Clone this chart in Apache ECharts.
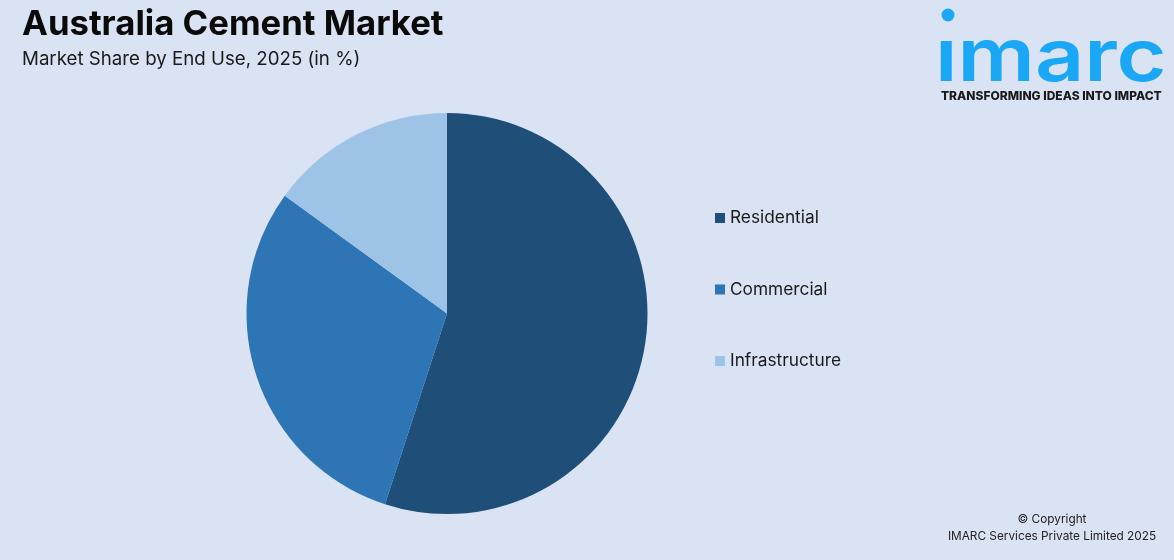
<!DOCTYPE html>
<html>
<head>
<meta charset="utf-8">
<style>html,body{margin:0;padding:0;background:#dae3f3}#main{width:1174px;height:560px}</style>
<script src="https://cdn.jsdelivr.net/npm/echarts@6/dist/echarts.min.js"></script>
</head>
<body>
<div id="main"></div>
<script>
const categories = ['Residential', 'Commercial', 'Infrastructure'];
const shares = [55, 30, 15];
const colors = ['#1f4e79', '#2e75b6', '#9dc3e6'];

const chart = echarts.init(document.getElementById('main'));

const font = 'Inter';

chart.setOption({
  animation: false,
  backgroundColor: '#dae3f3',
  color: colors,
  title: [
    {
      text: 'Australia Cement Market',
      left: 17, top: 2,
      textStyle: { fontFamily: font, fontSize: 34.7, fontWeight: 700, color: '#0a0a0a' }
    },
    {
      text: 'Market Share by End Use, 2025 (in %)',
      left: 17, top: 45,
      textStyle: { fontFamily: font, fontSize: 18.7, fontWeight: 400, color: '#1a1a1a' }
    },
    {
      text: '© Copyright',
      left: 1047, top: 508, textAlign: 'center',
      textStyle: { fontFamily: font, fontSize: 11.8, fontWeight: 400, color: '#222' }
    },
    {
      text: 'IMARC Services Private Limited 2025',
      left: 1047, top: 525, textAlign: 'center',
      textStyle: { fontFamily: font, fontSize: 11.8, fontWeight: 400, color: '#222' }
    }
  ],
  legend: {
    orient: 'vertical',
    left: 710, top: 202,
    icon: 'rect',
    itemWidth: 10, itemHeight: 10, itemGap: 49.5,
    selectedMode: false,
    data: categories,
    textStyle: { fontFamily: font, fontSize: 17.3, color: '#1a1a1a', lineHeight: 22 }
  },
  series: [{
    type: 'pie',
    center: [447, 313.5],
    radius: [0, 200.5],
    startAngle: 90,
    clockwise: true,
    label: { show: false },
    labelLine: { show: false },
    data: categories.map((name, i) => ({ name, value: shares[i] }))
  }],
  graphic: [
    { type: 'circle', shape: { cx: 948, cy: 15, r: 6.5 }, style: { fill: '#1aa7f5' } },
    {
      type: 'text', x: 935, y: 23, scaleX: 1.178,
      style: { text: 'ımarc', fontFamily: font, fontSize: 73, fontWeight: 600, fill: '#1aa7f5' }
    },
    {
      type: 'text', left: 941, top: 90,
      style: { text: 'TRANSFORMING IDEAS INTO IMPACT', fontFamily: font, fontSize: 12, fontWeight: 800, fill: '#1a1a1a' }
    }
  ]
});
</script>
</body>
</html>
